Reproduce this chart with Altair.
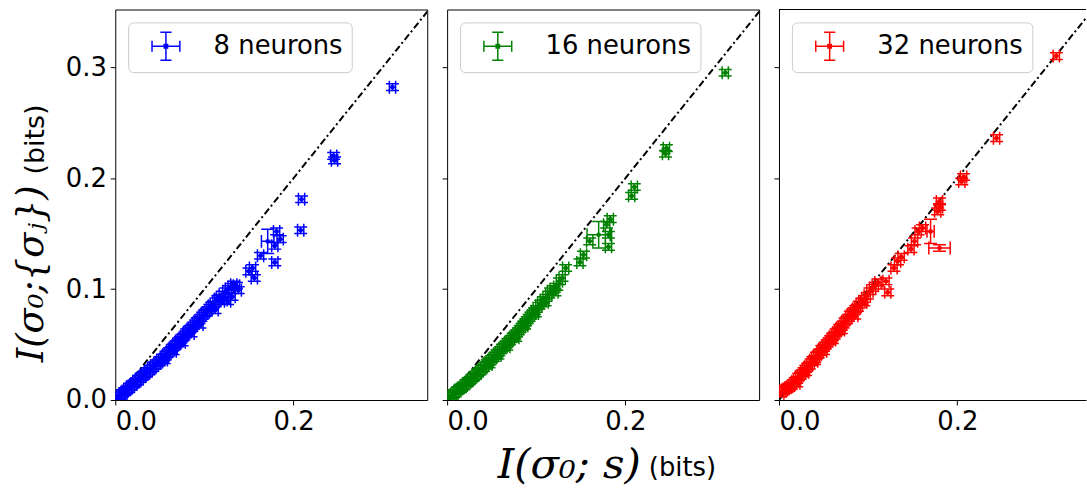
import altair as alt
import pandas as pd

COLORS = ["#0000ff", "#008000", "#ff0000"]
LABELS = ["8 neurons", "16 neurons", "32 neurons"]

X_TICKS = [0.0, 0.2]
Y_TICKS = [0.0, 0.1, 0.2, 0.3]
DIAG = [0.0, 0.36]
X_MAX = [0.35, 0.35, 0.3443]   # last panel is cut by the figure edge
Y_MAX = 0.352

XERR = 0.0035
YERR = 0.003

# ---- 8 neurons ----
P1_X = [0.003, 0.005, 0.007, 0.008, 0.010, 0.011, 0.013, 0.015, 0.016, 0.018,
        0.020, 0.021, 0.023, 0.025, 0.026, 0.028, 0.030, 0.031, 0.033, 0.035,
        0.036, 0.038, 0.040, 0.042, 0.043, 0.045, 0.047, 0.049, 0.050, 0.052,
        0.054, 0.056, 0.057, 0.059, 0.061, 0.063, 0.064, 0.066, 0.068, 0.070,
        0.071, 0.073, 0.075, 0.077, 0.079, 0.080, 0.082, 0.084, 0.086, 0.088,
        0.090, 0.092, 0.094, 0.096, 0.098, 0.100, 0.102, 0.104, 0.106, 0.108,
        0.110, 0.113, 0.115, 0.117, 0.120, 0.124, 0.127, 0.130, 0.133, 0.136,
        0.138, 0.131, 0.126, 0.122, 0.112, 0.095, 0.085, 0.075, 0.065, 0.055,
        0.150, 0.154, 0.156, 0.163, 0.179, 0.179, 0.181, 0.185, 0.208, 0.209,
        0.245, 0.246, 0.311]
P1_Y = [0.002, 0.004, 0.004, 0.006, 0.007, 0.008, 0.009, 0.010, 0.012, 0.012,
        0.014, 0.015, 0.016, 0.017, 0.019, 0.019, 0.021, 0.022, 0.023, 0.024,
        0.026, 0.026, 0.028, 0.029, 0.031, 0.031, 0.033, 0.034, 0.036, 0.036,
        0.038, 0.039, 0.041, 0.042, 0.044, 0.045, 0.047, 0.048, 0.050, 0.051,
        0.053, 0.054, 0.056, 0.057, 0.059, 0.061, 0.062, 0.064, 0.065, 0.067,
        0.069, 0.071, 0.072, 0.074, 0.076, 0.078, 0.079, 0.081, 0.083, 0.085,
        0.086, 0.089, 0.091, 0.092, 0.095, 0.098, 0.100, 0.102, 0.104, 0.103,
        0.099, 0.093, 0.089, 0.090, 0.081, 0.068, 0.060, 0.052, 0.044, 0.036,
        0.116, 0.119, 0.110, 0.130, 0.139, 0.124, 0.152, 0.145, 0.153, 0.181,
        0.220, 0.216, 0.282]
P1_WIDE_X = [0.171]
P1_WIDE_Y = [0.143]
P1_WIDE_EX = [0.007]
P1_WIDE_EY = [0.011]

# ---- 16 neurons ----
P2_X = [0.003, 0.005, 0.007, 0.009, 0.011, 0.012, 0.014, 0.016, 0.018, 0.019,
        0.021, 0.023, 0.025, 0.026, 0.028, 0.030, 0.032, 0.034, 0.035, 0.037,
        0.039, 0.041, 0.043, 0.045, 0.046, 0.048, 0.050, 0.052, 0.054, 0.056,
        0.058, 0.060, 0.062, 0.064, 0.066, 0.068, 0.070, 0.072, 0.074, 0.076,
        0.078, 0.080, 0.082, 0.084, 0.086, 0.088, 0.090, 0.092, 0.094, 0.096,
        0.098, 0.100, 0.103, 0.105, 0.108, 0.111, 0.114, 0.116, 0.119, 0.123,
        0.126, 0.129, 0.133, 0.121, 0.110, 0.099, 0.087, 0.077, 0.067, 0.057,
        0.047, 0.149, 0.153, 0.160, 0.179, 0.181, 0.181, 0.183, 0.207, 0.210,
        0.245, 0.246, 0.312]
P2_Y = [0.002, 0.004, 0.005, 0.006, 0.008, 0.009, 0.010, 0.011, 0.012, 0.013,
        0.015, 0.016, 0.017, 0.018, 0.020, 0.021, 0.022, 0.024, 0.025, 0.026,
        0.028, 0.029, 0.031, 0.033, 0.034, 0.035, 0.037, 0.038, 0.040, 0.042,
        0.043, 0.045, 0.047, 0.048, 0.050, 0.052, 0.053, 0.055, 0.057, 0.058,
        0.060, 0.062, 0.064, 0.066, 0.068, 0.070, 0.072, 0.074, 0.076, 0.078,
        0.080, 0.082, 0.085, 0.087, 0.090, 0.092, 0.095, 0.098, 0.100, 0.102,
        0.107, 0.110, 0.119, 0.097, 0.088, 0.078, 0.067, 0.056, 0.048, 0.040,
        0.032, 0.124, 0.131, 0.143, 0.158, 0.149, 0.138, 0.163, 0.184, 0.192,
        0.222, 0.227, 0.295]
P2_WIDE_X = [0.170]
P2_WIDE_Y = [0.149]
P2_WIDE_EX = [0.013]
P2_WIDE_EY = [0.012]

# ---- 32 neurons ----
P3_X = [0.002, 0.004, 0.006, 0.008, 0.010, 0.012, 0.014, 0.016, 0.018, 0.020,
        0.022, 0.024, 0.026, 0.028, 0.030, 0.032, 0.034, 0.036, 0.038, 0.040,
        0.042, 0.044, 0.046, 0.048, 0.050, 0.052, 0.054, 0.056, 0.058, 0.060,
        0.062, 0.064, 0.066, 0.068, 0.070, 0.072, 0.074, 0.076, 0.078, 0.080,
        0.082, 0.084, 0.086, 0.088, 0.090, 0.093, 0.096, 0.099, 0.102, 0.105,
        0.108, 0.111, 0.070, 0.060, 0.050, 0.040, 0.030, 0.020, 0.085, 0.095,
        0.120, 0.122, 0.129, 0.133, 0.137, 0.148, 0.152, 0.156, 0.161, 0.178,
        0.180, 0.180, 0.205, 0.207, 0.244, 0.311]
P3_Y = [0.006, 0.008, 0.009, 0.010, 0.011, 0.012, 0.013, 0.015, 0.017, 0.018,
        0.021, 0.022, 0.024, 0.026, 0.028, 0.030, 0.031, 0.034, 0.036, 0.037,
        0.040, 0.041, 0.043, 0.046, 0.047, 0.049, 0.051, 0.053, 0.055, 0.057,
        0.058, 0.061, 0.062, 0.065, 0.066, 0.068, 0.071, 0.072, 0.074, 0.077,
        0.078, 0.080, 0.082, 0.083, 0.086, 0.089, 0.091, 0.094, 0.098, 0.101,
        0.103, 0.106, 0.063, 0.054, 0.044, 0.035, 0.025, 0.015, 0.076, 0.088,
        0.107, 0.097, 0.119, 0.125, 0.129, 0.136, 0.143, 0.152, 0.155, 0.170,
        0.174, 0.179, 0.197, 0.201, 0.236, 0.310]
P3_WIDE_X = [0.170, 0.180]
P3_WIDE_Y = [0.152, 0.137]
P3_WIDE_EX = [0.004, 0.012]
P3_WIDE_EY = [0.011, 0.003]

Y_TITLE_MATH = "I(σ₀;{σⱼ})"
X_TITLE_MATH = "I(σ₀; s)"
UNIT = "(bits)"

LEGEND_SYMBOL = ("M-1,0H1M-1,-0.4V0.4M1,-0.4V0.4M0,-1V1M-0.4,-1H0.4M-0.4,1H0.4"
                 "M-0.12,-0.12H0.12V0.12H-0.12Z")

PANEL_W = [314, 314, 309]
PANEL_H = 393


def make_df(xs, ys, exs, eys, label):
    df = pd.DataFrame({"x": xs, "y": ys, "ex": exs, "ey": eys})
    df["xlo"] = df["x"] - df["ex"]
    df["xhi"] = df["x"] + df["ex"]
    df["ylo"] = df["y"] - df["ey"]
    df["yhi"] = df["y"] + df["ey"]
    df["series"] = label
    return df


def panel(idx, xs, ys, wx, wy, wex, wey, show_y, extra_layers):
    color = COLORS[idx]
    label = LABELS[idx]
    open_right = idx == 2
    df = pd.concat([
        make_df(xs, ys, [XERR] * len(xs), [YERR] * len(ys), label),
        make_df(wx, wy, wex, wey, label),
    ], ignore_index=True)

    xsc = alt.Scale(domain=[0, X_MAX[idx]], nice=False, zero=False)
    ysc = alt.Scale(domain=[0, Y_MAX], nice=False, zero=False)
    ax_kw = dict(domain=True, domainColor="black", domainWidth=1) if open_right else {}
    xax = alt.Axis(values=X_TICKS, format=".1f", title=None, **ax_kw)
    yax = alt.Axis(values=Y_TICKS, format=".1f", title=None, labels=show_y, **ax_kw)

    def X(f):
        return alt.X(f, type="quantitative", scale=xsc, axis=xax)

    def Y(f):
        return alt.Y(f, type="quantitative", scale=ysc, axis=yax)

    base = alt.Chart(df)
    diag = alt.Chart(pd.DataFrame({"d": DIAG})).mark_line(
        color="black", strokeWidth=2, strokeDash=[7, 3, 2, 3], clip=True
    ).encode(x=X("d"), y=Y("d"))

    hbar = base.mark_rule(color=color, strokeWidth=1.5, clip=True).encode(
        x=X("xlo"), x2="xhi", y=Y("y"))
    vbar = base.mark_rule(color=color, strokeWidth=1.5, clip=True).encode(
        x=X("x"), y=Y("ylo"), y2="yhi")
    cap_kw = dict(color=color, size=13, thickness=1.5, clip=True, opacity=1)
    xcap_lo = base.mark_tick(orient="vertical", **cap_kw).encode(x=X("xlo"), y=Y("y"))
    xcap_hi = base.mark_tick(orient="vertical", **cap_kw).encode(x=X("xhi"), y=Y("y"))
    ycap_lo = base.mark_tick(orient="horizontal", **cap_kw).encode(x=X("x"), y=Y("ylo"))
    ycap_hi = base.mark_tick(orient="horizontal", **cap_kw).encode(x=X("x"), y=Y("yhi"))

    pts = base.mark_circle(size=22, opacity=1, clip=True).encode(
        x=X("x"), y=Y("y"),
        color=alt.Color(
            "series:N",
            scale=alt.Scale(domain=[label], range=[color]),
            legend=alt.Legend(
                title=None, orient="top-left", offset=13, padding=9,
                symbolType=LEGEND_SYMBOL, symbolSize=784,
                symbolStrokeWidth=1.5, symbolFillColor=color,
                symbolStrokeColor=color, symbolOffset=14,
                labelOffset=33, labelFontSize=26, labelFont="DejaVu Sans",
                labelColor="black", strokeColor="#cccccc", fillColor="white",
                cornerRadius=5, labelExpr="datum.label + ' '",
            ),
        ),
    )
    layers = [diag, hbar, vbar, xcap_lo, xcap_hi, ycap_lo, ycap_hi, pts]
    if open_right:
        frame_top = alt.Chart(pd.DataFrame({"x0": [0.0], "x1": [X_MAX[idx]], "y": [Y_MAX]})).mark_rule(
            color="black", strokeWidth=1).encode(x=X("x0"), x2="x1", y=Y("y"))
        layers.append(frame_top)
    layers += extra_layers
    ch = alt.layer(*layers).properties(width=PANEL_W[idx], height=PANEL_H)
    if open_right:
        ch = ch.properties(view=alt.ViewBackground(stroke="transparent"))
    return ch


def text_layer(txt, **kw):
    pos = {k: kw.pop(k) for k in ("x", "y")}
    return alt.Chart(pd.DataFrame({"t": [txt]})).mark_text(color="black", **kw).encode(
        text="t:N", x=alt.value(pos["x"]), y=alt.value(pos["y"]))


y_titles = [
    text_layer(Y_TITLE_MATH, x=-84, y=355, angle=270, align="left", baseline="middle",
               font="DejaVu Serif", fontStyle="italic", fontSize=37),
    text_layer(UNIT, x=-80, y=166, angle=270, align="left", baseline="middle",
               font="DejaVu Sans", fontSize=27),
]
x_titles = [
    text_layer(X_TITLE_MATH, x=51, y=459, align="left", baseline="middle",
               font="DejaVu Serif", fontStyle="italic", fontSize=42),
    text_layer(UNIT, x=203, y=461, align="left", baseline="middle",
               font="DejaVu Sans", fontSize=26),
]

p1 = panel(0, P1_X, P1_Y, P1_WIDE_X, P1_WIDE_Y, P1_WIDE_EX, P1_WIDE_EY, True, y_titles)
p2 = panel(1, P2_X, P2_Y, P2_WIDE_X, P2_WIDE_Y, P2_WIDE_EX, P2_WIDE_EY, False, x_titles)
p3 = panel(2, P3_X, P3_Y, P3_WIDE_X, P3_WIDE_Y, P3_WIDE_EX, P3_WIDE_EY, False, [])

chart = alt.hconcat(p1, p2, p3, spacing=13).resolve_scale(
    color="independent").resolve_legend(color="independent").configure_view(
    stroke="black", strokeWidth=1).configure_axis(
    labelFont="DejaVu Sans", labelFontSize=26, labelColor="black",
    tickSize=5, tickColor="black", tickWidth=1, domain=False, grid=False,
    labelPadding=4).properties(
    padding={"left": 12, "top": 7, "right": 0, "bottom": 0},
    background="white")

chart.save("out.html", embed_options={"renderer": "svg", "actions": False})
